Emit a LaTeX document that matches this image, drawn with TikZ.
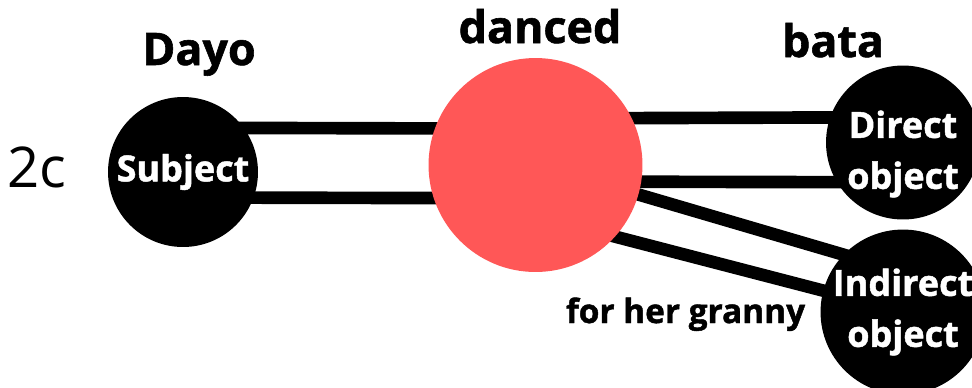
\documentclass[tikz,border=0pt]{standalone}
\usepackage{fontspec}
\setmainfont{Open Sans}[BoldFeatures={FakeBold=1.3}]
\usetikzlibrary{positioning,backgrounds}
\definecolor{verbred}{HTML}{FF5757}

\begin{document}
\begin{tikzpicture}[x=0.02cm,y=-0.02cm,
    rolelabel/.style={text=white,align=center,font=\fontsize{20.5}{29}\selectfont\bfseries},
    role/.style={circle,fill=black,inner sep=0pt,outer sep=0pt,minimum size=3.08cm,rolelabel},
    word/.style={anchor=base,font=\fontsize{25.5}{30}\selectfont\bfseries},
    link/.style={line width=7.2pt,shorten <=-6pt,shorten >=-6pt}]
  \clip (0,0) rectangle (972,387);
  \node[anchor=base,font=\fontsize{32}{36}\selectfont] (num) at (37,187) {2c};
  % the circles
  \node[role,minimum size=3cm] (subj) at (183,172) {Subject};
  \node[circle,fill=verbred,inner sep=0pt,outer sep=0pt,minimum size=4.28cm] (verb) at (535.5,165) {};
  \node[role] (dobj) at (903,142.5) {};
  \node[rolelabel] (dobjtext) at (903,154) {Direct\\object};
  \node[role] (iobj) at (903,312) {Indirect\\object};
  % the words
  \node[word] (dayo) at (199,65) {Dayo};
  \node[word] (danced) at (540,43) {danced};
  \node[word] (bata) at (833,57) {bata};
  \node[word,font=\fontsize{19}{22}\selectfont\bfseries] (granny) at (685.5,323) {for her granny};
  % the links
  \begin{pgfonlayer}{background}
    \draw[link] (subj.36) -- (verb.160);
    \draw[link] (subj.-20) -- (verb.198);
    \draw[link] (verb.26) -- (dobj.161.5);
    \draw[link] (verb.-9) -- (dobj.211);
    \draw[link] (verb.-16.5) -- (iobj.136);
    \draw[link] (verb.-42.5) -- (iobj.165);
  \end{pgfonlayer}
\end{tikzpicture}
\end{document}
